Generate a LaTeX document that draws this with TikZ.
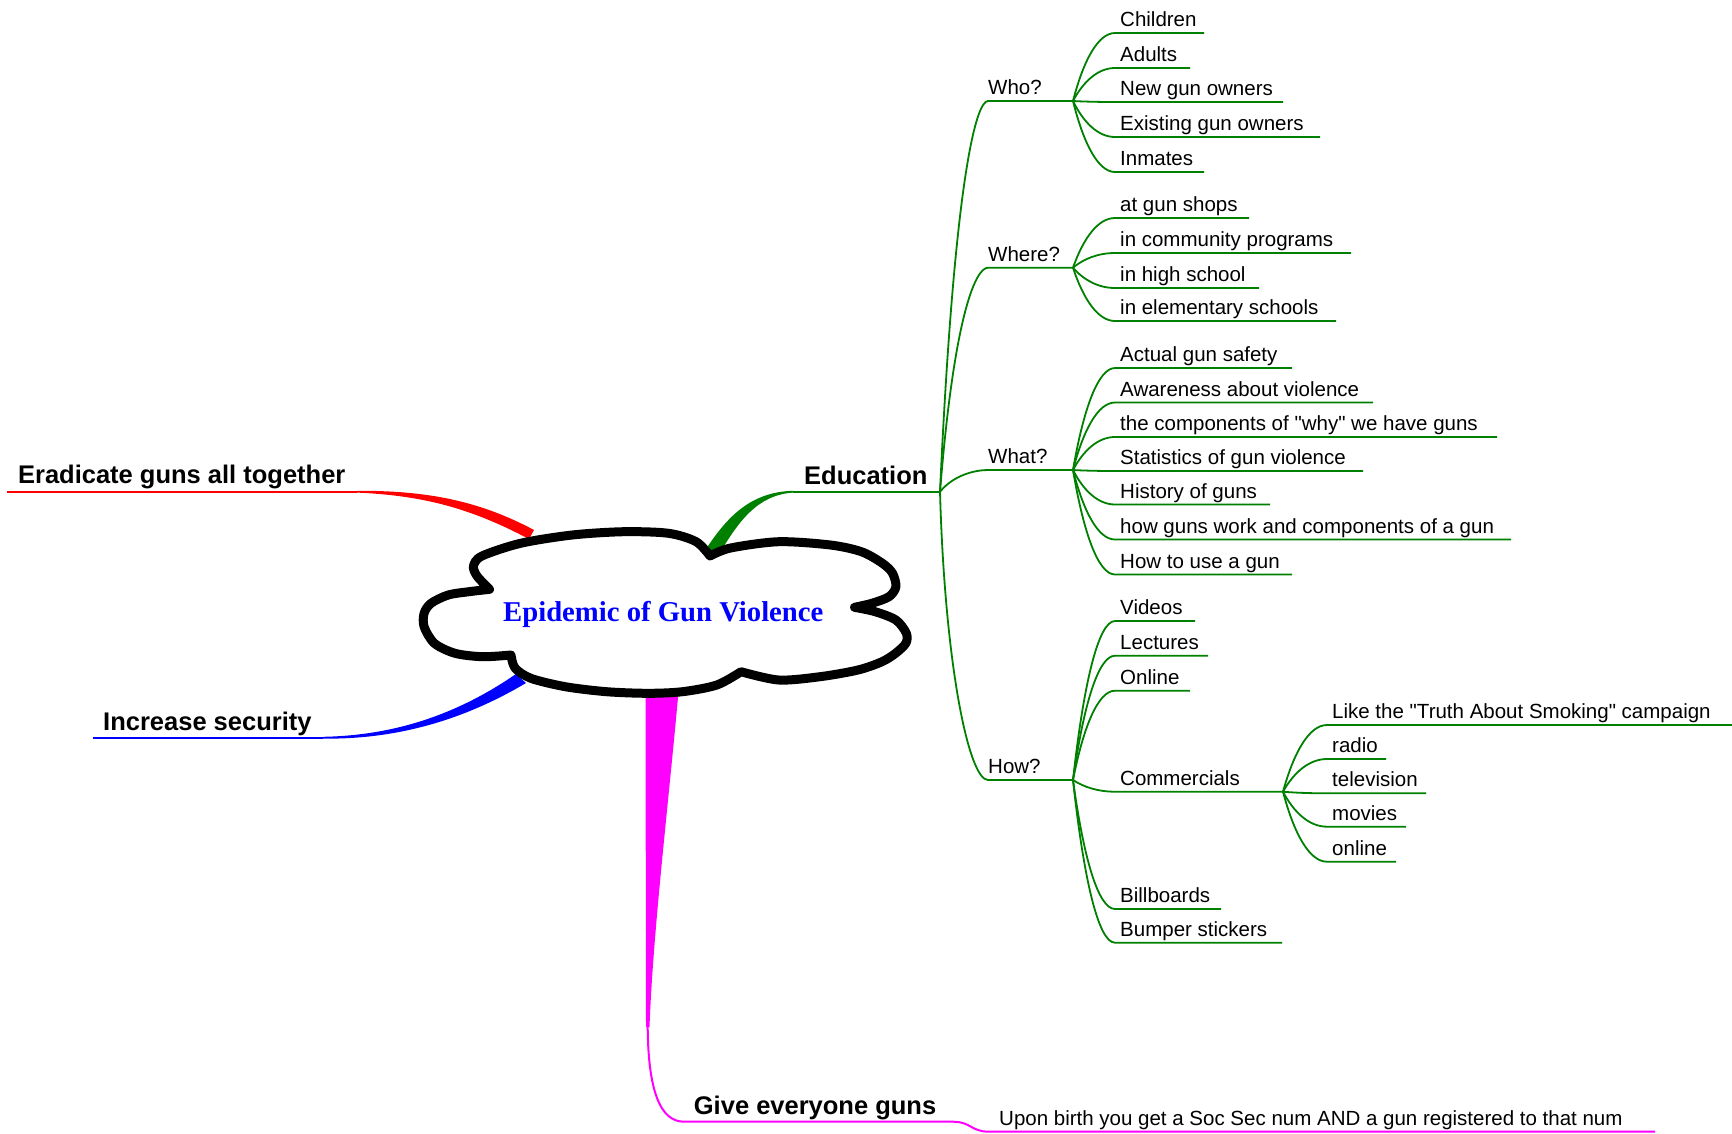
\documentclass[tikz,border=0pt]{standalone}
\usepackage{fontspec}
\setmainfont{Liberation Sans}[Ligatures=TeXOff]
\newfontfamily\titlefont{Liberation Serif}
\usetikzlibrary{calc}
\definecolor{mgreen}{RGB}{0,128,0}
\definecolor{mblue}{RGB}{0,0,255}
\definecolor{mred}{RGB}{255,0,0}
\definecolor{mmag}{RGB}{255,0,255}
\tikzset{
  leaf/.style={anchor=base west, inner sep=0pt, font=\fontsize{20.5}{24}\selectfont},
  topic/.style={anchor=base west, inner sep=0pt, font=\fontsize{25.5}{30}\selectfont\bfseries},
  gline/.style={draw=mgreen, line width=1.8pt},
  rline/.style={draw=mred, line width=1.8pt},
  bline/.style={draw=mblue, line width=1.8pt},
  mline/.style={draw=mmag, line width=2pt},
  cloudline/.style={draw=black, fill=white, line width=9pt, line join=round},
}
% #1 style, #2 from, #3 curve end, #4 fx, #5 fy, #6 gx, #7 underline end
\newcommand\branch[7][gline]{%
  \draw[#1] let \p1=(#2), \p2=(#3) in (\p1) .. controls ({\x1+#4*((\x2)-(\x1))},{\y1+#5*((\y2)-(\y1))}) and ({\x2-#6*((\x2)-(\x1))},{\y2}) .. (\p2) -- (#7);}
% #1 name, #2 parent, #3 x start, #4 y underline, #5 x end, #6 text
\newcommand\leaf[6]{%
  \coordinate (#1-s) at (#3,#4);
  \coordinate (#1-e) at (#5,#4);
  \node[leaf] (#1) at ({#3+5},{#4-6.5}) {#6};
  \branch{#2}{#1-s}{0.25}{0.6}{0.4}{#1-e}
}
\begin{document}
\begin{tikzpicture}[x=1pt,y=-1pt]
\useasboundingbox (0,0) rectangle (1732,1133);
\fill[white] (0,0) rectangle (1732,1133);

% ---------- Eradicate (red)
\coordinate (red-s) at (7,491.7);
\coordinate (red-t) at (357,491.7);
\node[topic] (erad) at (17.9,483) {Eradicate guns all together};
\draw[rline] (red-s) -- (red-t);
\fill[mred] (357,490.8) .. controls (425,490.5) and (478,500) .. (534,530)
  -- (529,539) .. controls (472,509) and (425,495.5) .. (357,492.6) -- cycle;

% ---------- Increase security (blue)
\coordinate (blue-s) at (93,737.7);
\coordinate (blue-t) at (323,737.7);
\node[topic] (incr) at (103,730) {Increase security};
\draw[bline] (blue-s) -- (blue-t);
\fill[mblue] (323,736.8) .. controls (392,735.5) and (455,716) .. (516,674)
  -- (526,683) .. controls (462,721) and (395,739.5) .. (323,738.6) -- cycle;

% ---------- Give everyone guns (magenta)
\fill[mmag] (645.5,686) -- (679,686) .. controls (669,800) and (653,930) .. (649.5,1027)
  -- (646,1027) -- cycle;
\coordinate (mag-b) at (647.7,1026);
\coordinate (give-s) at (684,1121.7);
\coordinate (give-e) at (953,1121.7);
\coordinate (upon-s) at (989,1131.7);
\coordinate (upon-e) at (1655,1131.7);
\node[topic] (give) at (693.7,1114) {Give everyone guns};
\node[leaf] (upon) at (999,1125.5) {Upon birth you get a Soc Sec num AND a gun registered to that num};
\draw[mline] (mag-b) .. controls (648,1090) and (660,1121.7) .. (give-s) -- (give-e)
  .. controls (971,1121.7) and (971,1131.7) .. (upon-s) -- (upon-e);

% ---------- Education (green)
\fill[mgreen] (704,552) .. controls (725,520) and (748,492) .. (793,490.8)
  -- (793,492.6) .. controls (757,495) and (738,522) .. (718,556) -- cycle;
\coordinate (edu-s) at (793,491.7);
\coordinate (E) at (940,491.7);
\node[topic] (edu) at (804,484) {Education};
\draw[gline] (edu-s) -- (E);

% level 2
\coordinate (who-s) at (988,101);   \coordinate (who-j) at (1073,101);
\coordinate (where-s) at (988,267.7); \coordinate (where-j) at (1073,267.7);
\coordinate (what-s) at (988,470);  \coordinate (what-j) at (1073,470);
\coordinate (how-s) at (988,780);   \coordinate (how-j) at (1073,780);
\node[leaf] (who) at (988,94.5) {Who?};
\node[leaf] (where) at (988,261.2) {Where?};
\node[leaf] (what) at (988,463.5) {What?};
\node[leaf] (how) at (988,773.5) {How?};
\branch{E}{who-s}{0.3}{0.8}{0.25}{who-j}
\branch{E}{where-s}{0.3}{0.8}{0.25}{where-j}
\branch{E}{what-s}{0.3}{0.8}{0.25}{what-j}
\branch{E}{how-s}{0.1}{0.6}{0.4}{how-j}

% Who
\leaf{children}{who-j}{1115}{33}{1204}{Children}
\leaf{adults}{who-j}{1115}{68}{1190}{Adults}
\leaf{newown}{who-j}{1115}{102}{1283}{New gun owners}
\leaf{exown}{who-j}{1115}{137}{1320}{Existing gun owners}
\leaf{inmates}{who-j}{1115}{172}{1204}{Inmates}
% Where
\leaf{shops}{where-j}{1115}{218}{1249}{at gun shops}
\leaf{community}{where-j}{1115}{253}{1351}{in community programs}
\leaf{highschool}{where-j}{1115}{288}{1259}{in high school}
\leaf{elementary}{where-j}{1115}{321}{1336}{in elementary schools}
% What
\leaf{safety}{what-j}{1115}{368}{1292}{Actual gun safety}
\leaf{awareness}{what-j}{1115}{402.5}{1373}{Awareness about violence}
\leaf{whyguns}{what-j}{1115}{437}{1497}{the components of "why" we have guns}
\leaf{stats}{what-j}{1115}{471}{1363}{Statistics of gun violence}
\leaf{history}{what-j}{1115}{504.5}{1270}{History of guns}
\leaf{howwork}{what-j}{1115}{539.5}{1511}{how guns work and components of a gun}
\leaf{howuse}{what-j}{1115}{574.5}{1292}{How to use a gun}
% How
\leaf{videos}{how-j}{1115}{621}{1195}{Videos}
\leaf{lectures}{how-j}{1115}{655.7}{1208}{Lectures}
\leaf{online}{how-j}{1115}{690.7}{1190}{Online}
\leaf{comm}{how-j}{1115}{791.7}{1283}{Commercials}
\leaf{billboards}{how-j}{1115}{909}{1221}{Billboards}
\leaf{bumper}{how-j}{1115}{942.7}{1282}{Bumper stickers}
% Commercials
\leaf{truth}{comm-e}{1327}{725}{1732}{Like the "Truth About Smoking" campaign}
\leaf{radio}{comm-e}{1327}{759}{1386}{radio}
\leaf{tv}{comm-e}{1327}{793.3}{1426}{television}
\leaf{movies}{comm-e}{1327}{826.7}{1406}{movies}
\leaf{conline}{comm-e}{1327}{861.7}{1396}{online}

% ---------- central cloud
\draw[cloudline]
  plot[smooth] coordinates {(710,556) (730.6,548) (778.8,541.7) (830.4,545) (861.4,551.7) (882,563) (892.4,573) (895.9,586.7) (889,596.7) (871.8,603.3) (854.5,607.3)}
  -- plot[smooth] coordinates {(854.5,607.3) (875.2,611.7) (895.9,620) (906.2,633) (906,643) (895.9,653) (882,661.7) (858,670) (820,676.7) (778.8,680) (741,671.7)}
  -- plot[smooth] coordinates {(741,671.7) (716.8,685) (682.4,691.7) (648,693.3) (606.6,691.7) (565.3,686.7) (530.9,678.3) (515,668) (511,655)}
  -- plot[smooth] coordinates {(511,655) (482.6,656.7) (455.1,653.3) (434.4,643.3) (424.1,626.7) (424.1,613.3) (431,603.3) (448.2,595) (468.9,591.7) (489.5,589.3)}
  -- plot[smooth] coordinates {(489.5,589.3) (477,576) (473.5,566) (482,556) (520.5,543.3) (572.2,535) (623.8,531.7) (668.6,533.3) (696.1,541.7) (710,556)}
  -- cycle;
\node[anchor=base, inner sep=0pt, text=mblue, font=\titlefont\bfseries\fontsize{28.7}{34}\selectfont] (root) at (663.3,621.7) {Epidemic of Gun Violence};
\end{tikzpicture}
\end{document}
